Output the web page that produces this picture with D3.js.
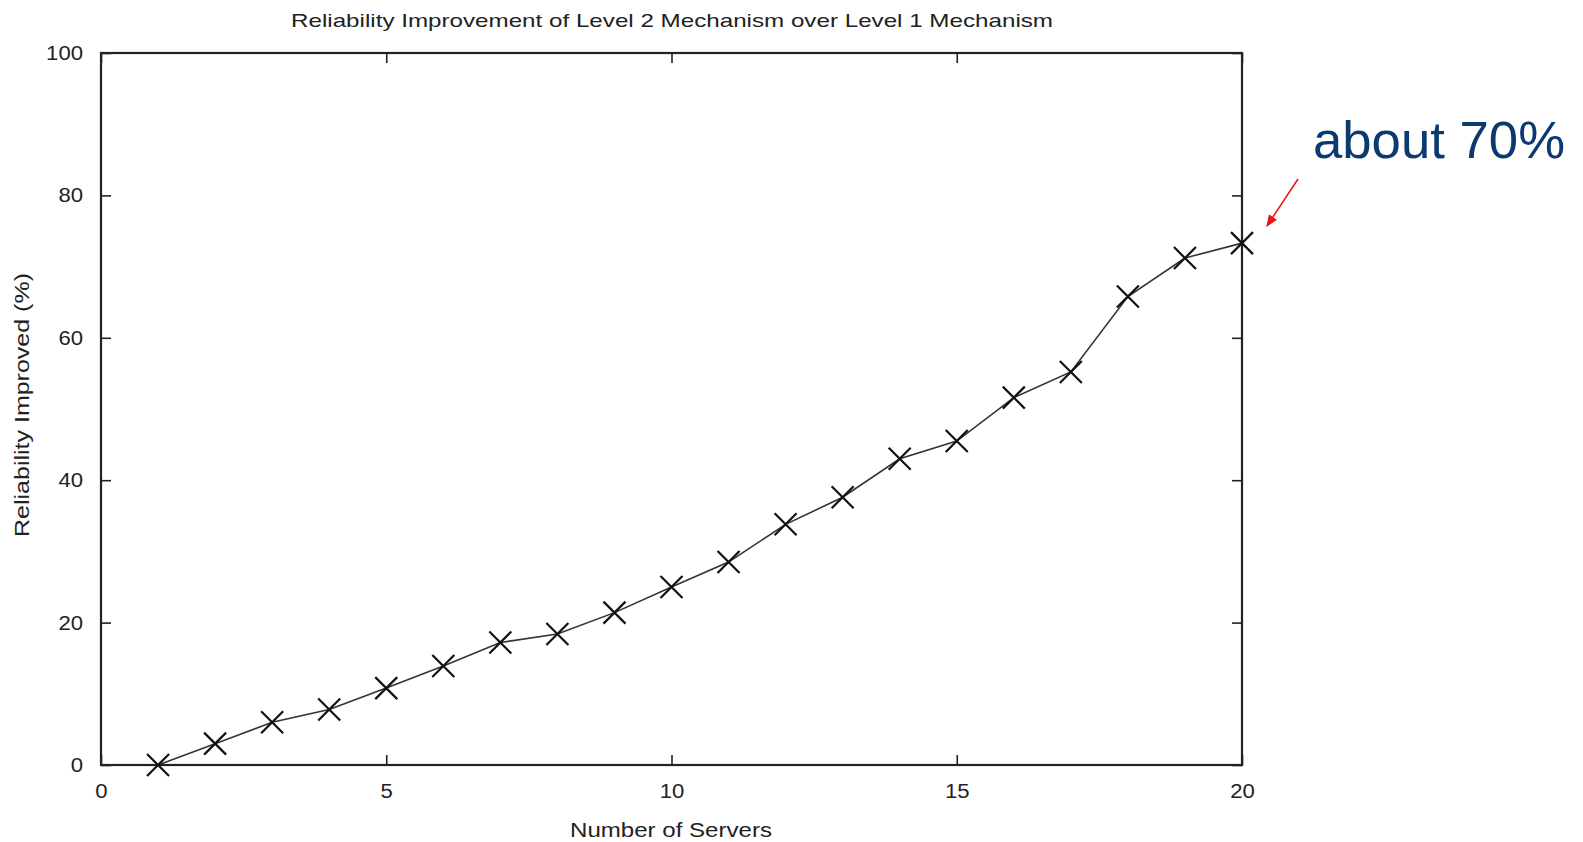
<!DOCTYPE html>
<html><head><meta charset="utf-8">
<script src="https://cdn.jsdelivr.net/npm/d3@7"></script>
<style>html,body{margin:0;padding:0;background:#fff;}svg{display:block;}</style>
</head><body>
<script>
const servers = [1,2,3,4,5,6,7,8,9,10,11,12,13,14,15,16,17,18,19,20];
const improvement = [0,3.0,6.0,7.8,10.8,13.9,17.2,18.4,21.4,25.0,28.5,33.8,37.6,43.0,45.5,51.6,55.2,65.8,71.2,73.3];
const xTicks = [0,5,10,15,20];
const yTicks = [0,20,40,60,80,100];
const titleText = "Reliability Improvement of Level 2 Mechanism over Level 1 Mechanism";
const xLabel = "Number of Servers";
const yLabel = "Reliability Improved (%)";
const noteText = "about 70%";

const W = 1583, H = 842;
const svg = d3.select("body").append("svg").attr("width", W).attr("height", H);
const L = 101, R = 1242, T = 53, B = 765;
const x = d3.scaleLinear().domain([0,20]).range([L,R]);
const y = d3.scaleLinear().domain([0,100]).range([B,T]);
const font = "'Liberation Sans', Arial, sans-serif";

// title
svg.append("text").attr("x", 672).attr("y", 27).attr("text-anchor","middle")
  .attr("font-family", font).attr("font-size", 19).attr("fill","#222")
  .attr("textLength", 762).attr("lengthAdjust","spacingAndGlyphs").text(titleText);

// axes with inward ticks
const tickLen = 10;
const gx = svg.append("g").attr("transform",`translate(0,${B})`)
  .call(d3.axisBottom(x).tickValues(xTicks).tickSize(-tickLen).tickPadding(18));
const gxt = svg.append("g").attr("transform",`translate(0,${T})`)
  .call(d3.axisTop(x).tickValues(xTicks).tickSize(-tickLen).tickFormat(""));
const gy = svg.append("g").attr("transform",`translate(${L},0)`)
  .call(d3.axisLeft(y).tickValues(yTicks).tickSize(-tickLen).tickPadding(18));
const gyr = svg.append("g").attr("transform",`translate(${R},0)`)
  .call(d3.axisRight(y).tickValues(yTicks).tickSize(-tickLen).tickFormat(""));
[gx,gxt,gy,gyr].forEach(g=>{
  g.select(".domain").remove();
  g.selectAll(".tick line").attr("stroke","#222").attr("stroke-width",1.6);
  g.selectAll("text").attr("font-family",font).attr("font-size",20).attr("fill","#222");
});
gx.selectAll("text").attr("dy","0.75em");
gy.selectAll("text").each(function(){
  const t = d3.select(this);
  t.attr("textLength", t.text().length*12.3).attr("lengthAdjust","spacingAndGlyphs");
});
gx.selectAll("text").each(function(){
  const t = d3.select(this);
  t.attr("textLength", t.text().length*12.3).attr("lengthAdjust","spacingAndGlyphs");
});
// frame
svg.append("rect").attr("x",L).attr("y",T).attr("width",R-L).attr("height",B-T)
  .attr("fill","none").attr("stroke","#222").attr("stroke-width",2.2);

// axis labels
svg.append("text").attr("x", 671).attr("y", 837).attr("text-anchor","middle")
  .attr("font-family", font).attr("font-size", 20).attr("fill","#222")
  .attr("textLength", 202).attr("lengthAdjust","spacingAndGlyphs").text(xLabel);
svg.append("text").attr("transform","translate(29,405) rotate(-90)").attr("text-anchor","middle")
  .attr("font-family", font).attr("font-size", 20).attr("fill","#222")
  .attr("textLength", 264).attr("lengthAdjust","spacingAndGlyphs").text(yLabel);

// line
const data = servers.map((s,i)=>({s, v: improvement[i]}));
svg.append("path").datum(data)
  .attr("d", d3.line().x(d=>x(d.s)).y(d=>y(d.v)))
  .attr("fill","none").attr("stroke","#333").attr("stroke-width",1.6);
// X markers
const m = 11;
svg.append("g").selectAll("path").data(data).join("path")
  .attr("d", d=>`M${x(d.s)-m},${y(d.v)-m}L${x(d.s)+m},${y(d.v)+m}M${x(d.s)-m},${y(d.v)+m}L${x(d.s)+m},${y(d.v)-m}`)
  .attr("stroke","#111").attr("stroke-width",2.2).attr("fill","none");

// annotation
svg.append("text").attr("x", 1313).attr("y", 158)
  .attr("font-family", font).attr("font-size", 52).attr("fill","#0b3a70")
  .attr("textLength", 252).attr("lengthAdjust","spacingAndGlyphs").text(noteText);
const defs = svg.append("defs");
defs.append("marker").attr("id","ah").attr("viewBox","0 0 10 10").attr("refX",9).attr("refY",5)
  .attr("markerWidth",12).attr("markerHeight",12).attr("markerUnits","userSpaceOnUse").attr("orient","auto")
  .append("path").attr("d","M0,1L10,5L0,9Z").attr("fill","#ee1111");
svg.append("line").attr("x1",1298).attr("y1",179).attr("x2",1267).attr("y2",226)
  .attr("stroke","#ee1111").attr("stroke-width",1.5).attr("marker-end","url(#ah)");
</script>
</body></html>
